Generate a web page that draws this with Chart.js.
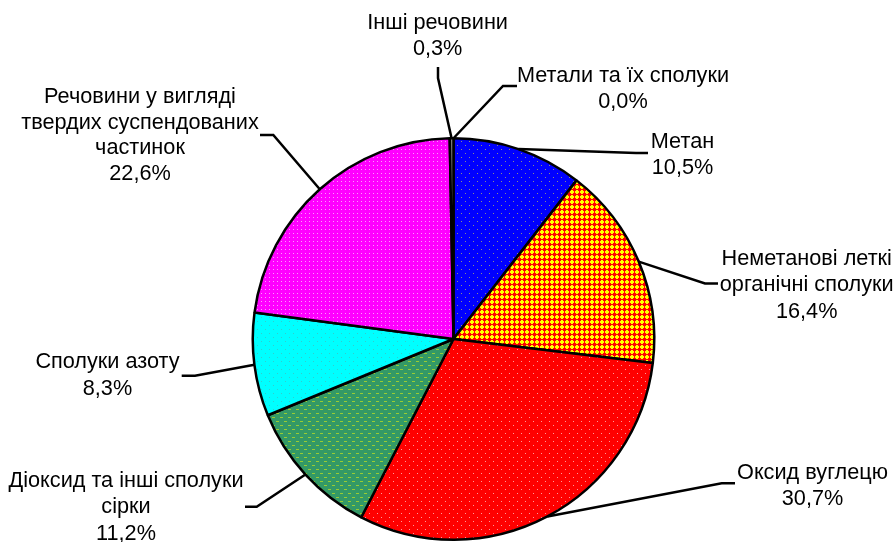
<!DOCTYPE html>
<html><head><meta charset="utf-8">
<script src="https://cdn.jsdelivr.net/npm/chart.js@4/dist/chart.umd.min.js"></script>
<style>html,body{margin:0;padding:0;background:#fff}#wrap{width:894px;height:542px}</style>
</head><body><div id="wrap"><canvas id="c" width="894" height="542" style="width:894px;height:542px"></canvas></div>
<script>
// ---- data ----
const categories = ['Метали та їх сполуки', 'Метан', 'Неметанові леткі органічні сполуки', 'Оксид вуглецю',
  'Діоксид та інші сполуки сірки', 'Сполуки азоту', 'Речовини у вигляді твердих суспендованих частинок', 'Інші речовини'];
const values = [0.0, 10.5, 16.4, 30.7, 11.2, 8.3, 22.6, 0.3];
const labelLines = [
  ['Метали та їх сполуки'],
  ['Метан'],
  ['Неметанові леткі', 'органічні сполуки'],
  ['Оксид вуглецю'],
  ['Діоксид та інші сполуки', 'сірки'],
  ['Сполуки азоту'],
  ['Речовини у вигляді', 'твердих суспендованих', 'частинок'],
  ['Інші речовини']
];
const fmt = v => v.toFixed(1).replace('.', ',') + '%';

// ---- fill patterns ----
function pat(w, h, bg, fg, rects) {
  const c = document.createElement('canvas'); c.width = w; c.height = h;
  const x = c.getContext('2d');
  x.fillStyle = bg; x.fillRect(0, 0, w, h);
  x.fillStyle = fg; rects.forEach(r => x.fillRect(r[0], r[1], r[2], r[3]));
  return x.createPattern(c, 'repeat');
}
const ctx0 = document.getElementById('c').getContext('2d');
const fills = [
  '#000000',
  pat(8, 8, '#0000ff', '#8c8c8c', [[1,1,1,1],[5,5,1,1]]),
  pat(5, 5, '#ff0000', '#ffff00', [[1,0,2,4],[0,1,4,2]]),
  pat(8, 8, '#ff0000', '#ff9a9a', [[1,1,1,1],[5,5,1,1]]),
  pat(8, 8, '#339966', '#99cc33', [[0,1,3,1],[4,5,3,1]]),
  pat(8, 8, '#00ffff', '#33cccc', [[1,1,1,1],[5,5,1,1]]),
  pat(4, 4, '#ff00ff', '#ff99ff', [[1,1,1,1]]),
  '#808080'
];

const layout = [
  {cx: 623, y: 74, lh: 26, path: [[503, 86], [517, 86]]},
  {cx: 682.5, y: 140, lh: 26, path: [[636, 153], [648, 153]]},
  {cx: 806.7, y: 257, lh: 26.5, path: [[705, 283.5], [718, 283.5]]},
  {cx: 812.5, y: 471, lh: 26.5, path: [[721.7, 483.3], [735, 483.3]]},
  {cx: 126, y: 479, lh: 26.5, path: [[256.7, 506.7], [245, 506.7]]},
  {cx: 107.5, y: 360.5, lh: 26.5, path: [[195, 375.7], [181.7, 375.7]]},
  {cx: 140, y: 95.5, lh: 25.5, path: [[273.3, 135], [260, 135]]},
  {cx: 437.6, y: 21.5, lh: 25.5, path: [[438, 78], [438, 67]]}
];

const labelPlugin = {
  id: 'pieLabels',
  afterDatasetsDraw(chart) {
    const ctx = chart.ctx;
    const meta = chart.getDatasetMeta(0);
    ctx.save();
    meta.data.forEach((arc, i) => {
      const L = layout[i];
      const mid = (arc.startAngle + arc.endAngle) / 2;
      const r = arc.outerRadius;
      const sx = arc.x + Math.cos(mid) * r, sy = arc.y + Math.sin(mid) * r;
      ctx.beginPath(); ctx.moveTo(sx, sy);
      L.path.forEach(p => ctx.lineTo(p[0], p[1]));
      ctx.strokeStyle = '#000'; ctx.lineWidth = 2.5; ctx.lineJoin = 'miter'; ctx.stroke();
      const lines = [...labelLines[i], fmt(values[i])];
      ctx.font = '21.7px "Liberation Sans", Arial, sans-serif';
      ctx.fillStyle = '#000'; ctx.textAlign = 'center'; ctx.textBaseline = 'alphabetic';
      lines.forEach((t, k) => ctx.fillText(t, L.cx, L.y + k * L.lh + 7.7));
    });
    ctx.restore();
  }
};

new Chart(ctx0, {
  type: 'pie',
  data: {
    labels: categories,
    datasets: [{
      data: values,
      backgroundColor: fills,
      borderColor: '#000',
      borderWidth: 2.5
    }]
  },
  options: {
    responsive: false,
    animation: false,
    layout: {padding: {left: 251, right: 238, top: 137, bottom: 1}},
    plugins: {legend: {display: false}, tooltip: {enabled: false}}
  },
  plugins: [labelPlugin]
});
</script></body></html>
